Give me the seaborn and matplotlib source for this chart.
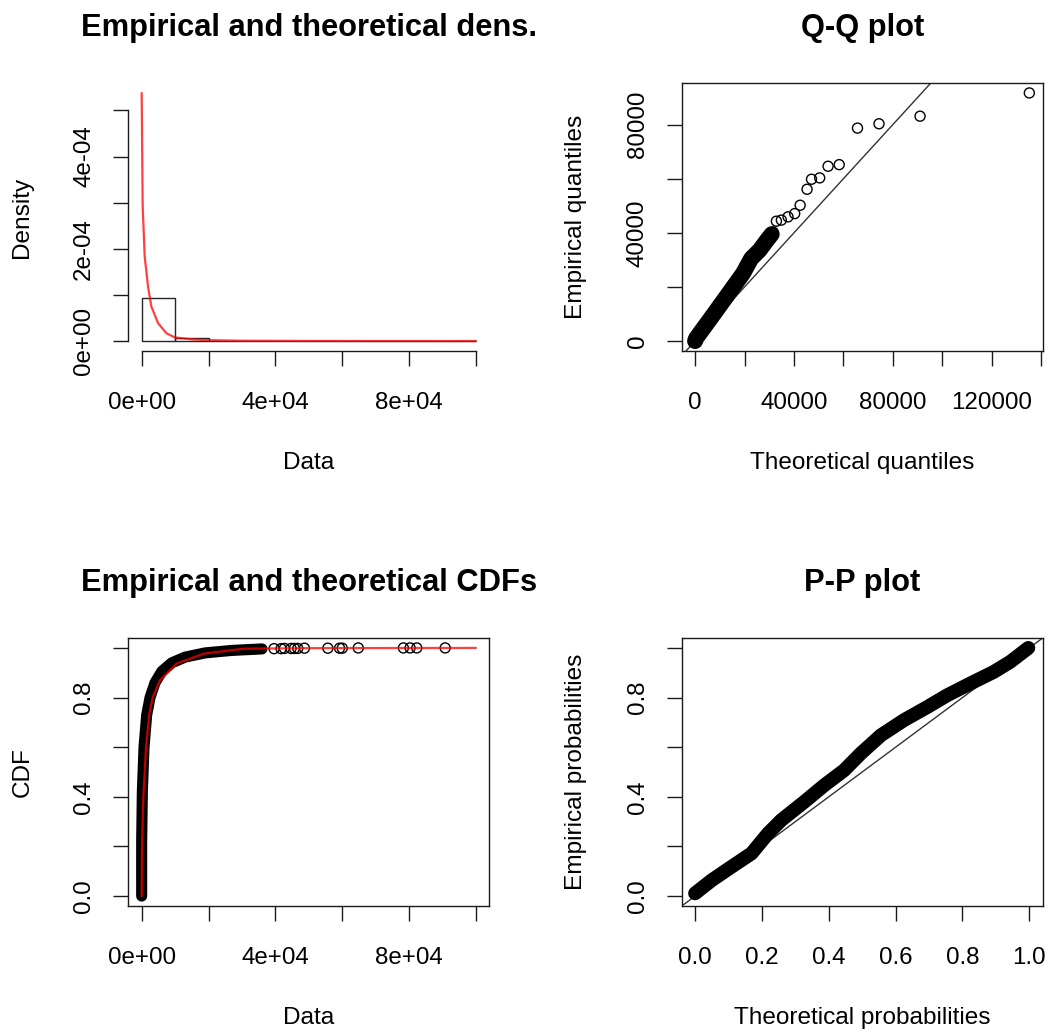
import numpy as np
import pandas as pd
import matplotlib
matplotlib.use("Agg")
import matplotlib.pyplot as plt
import seaborn as sns

# ------------------------------------------------------------------
# Data
# ------------------------------------------------------------------
# Panel 1: histogram (density scale) and theoretical density
hist_bin_left = [0, 10000, 20000, 30000, 40000, 50000, 60000, 70000, 80000, 90000]
hist_bin_width = 10000
hist_density = [0.930e-4, 0.059e-4, 0.006e-4, 0.002e-4, 0.0015e-4,
                0.0005e-4, 0.001e-4, 0.0005e-4, 0.0005e-4, 0.0005e-4]
dens_x = [0, 300, 900, 1900, 2900, 4900, 7400, 9900, 15000, 20000, 30000, 50000, 100000]
dens_y = [5.38e-4, 2.93e-4, 1.84e-4, 1.18e-4, 0.75e-4, 0.39e-4, 0.17e-4,
          0.08e-4, 0.037e-4, 0.02e-4, 0.008e-4, 0.003e-4, 0.001e-4]

# Panel 2: Q-Q plot (theoretical vs empirical quantiles)
qq_band_theo = [0, 400, 5800, 12600, 19400, 22700, 26100, 29100, 31000]
qq_band_emp = [0, 1000, 7750, 16350, 25000, 30500, 33600, 37300, 39500]
qq_tail_theo = [31500, 32900, 34900, 37600, 40300, 42500, 45300, 47100,
                50400, 53800, 58300, 65700, 74400, 91000, 135200]
qq_tail_emp = [40300, 44300, 44700, 45900, 47100, 50200, 56100, 59800,
               60300, 64600, 65200, 78700, 80300, 83100, 91700]
qq_ref_line = [-20000, 200000]

# Panel 3: empirical and theoretical CDFs
cdf_band_x = [0, 0, 200, 700, 1500, 2500, 4000, 6000, 9000, 13000, 19000, 27000, 36000]
cdf_band_y = [0.0, 0.22, 0.42, 0.60, 0.73, 0.80, 0.86, 0.905, 0.94, 0.963, 0.980, 0.990, 0.996]
cdf_tail_x = [39600, 41700, 42700, 44700, 45700, 46700, 48700, 55700, 59200,
              60000, 64800, 78300, 80300, 82300, 90800]
cdf_tail_y = [0.997, 0.997, 0.998, 0.998, 0.998, 0.998, 0.999, 0.999, 0.999,
              0.999, 1.0, 1.0, 1.0, 1.0, 1.0]
cdf_theo_x = [0, 100, 500, 1300, 2300, 3300, 5500, 10500, 18600, 30600, 50000, 100000]
cdf_theo_y = [0.0, 0.20, 0.40, 0.60, 0.735, 0.80, 0.87, 0.937, 0.977, 0.997, 0.999, 1.0]

# Panel 4: P-P plot
pp_band_theo = [0.0, 0.05, 0.109, 0.169, 0.218, 0.258, 0.327, 0.387, 0.446,
                0.496, 0.556, 0.625, 0.695, 0.754, 0.824, 0.893, 0.943, 0.997]
pp_band_emp = [0.011, 0.064, 0.118, 0.172, 0.252, 0.306, 0.380, 0.447, 0.507,
               0.575, 0.648, 0.709, 0.762, 0.809, 0.857, 0.903, 0.944, 1.0]
pp_ref_line = [-0.2, 1.2]

# Tick positions and labels
dens_xticks = [0, 20000, 40000, 60000, 80000, 100000]
dens_xlabels = ["0e+00", "", "4e+04", "", "8e+04", ""]
dens_yticks = [0, 1e-4, 2e-4, 3e-4, 4e-4, 5e-4]
dens_ylabels = ["0e+00", "", "2e-04", "", "4e-04", ""]
qq_xticks = [0, 20000, 40000, 60000, 80000, 100000, 120000, 140000]
qq_xlabels = ["0", "", "40000", "", "80000", "", "120000", ""]
qq_yticks = [0, 20000, 40000, 60000, 80000]
qq_ylabels = ["0", "", "40000", "", "80000"]
cdf_xticks = dens_xticks
cdf_xlabels = dens_xlabels
prob_ticks = [0.0, 0.2, 0.4, 0.6, 0.8, 1.0]
prob_labels_sparse = ["0.0", "", "0.4", "", "0.8", ""]
prob_labels_full = ["0.0", "0.2", "0.4", "0.6", "0.8", "1.0"]

titles = ["Empirical and theoretical dens.", "Q-Q plot",
          "Empirical and theoretical CDFs", "P-P plot"]
xlabels = ["Data", "Theoretical quantiles", "Data", "Theoretical probabilities"]
ylabels = ["Density", "Empirical quantiles", "CDF", "Empirical probabilities"]

# ------------------------------------------------------------------
sns.set_style("white")
plt.rcParams["font.family"] = ["Liberation Sans", "DejaVu Sans"]
plt.rcParams["text.color"] = "black"
plt.rcParams["axes.labelcolor"] = "black"
plt.rcParams["xtick.color"] = "black"
plt.rcParams["ytick.color"] = "black"

W, H = 1052, 1035
fig = plt.figure(figsize=(W / 100, H / 100), dpi=100)

PW, PH = 361, 268          # plot region size in px
lefts = [128.3, 681.7]
bottoms = [351, 906]       # px from top


def make_ax(col, row):
    x0 = lefts[col] / W
    y0 = (H - bottoms[row]) / H
    return fig.add_axes([x0, y0, PW / W, PH / H])


def r_lim(lo, hi):
    d = hi - lo
    return lo - 0.04 * d, hi + 0.04 * d


TICK_FS = 17.4
LAB_FS = 17.6
TITLE_FS = 22.2
RED = (1.0, 0.0, 0.0, 0.75)
AXCOL = (0.1, 0.1, 0.1)


def style(ax, i, xt, xl, yt, yl, box=True):
    ax.set_xticks(xt)
    ax.set_xticklabels(xl)
    ax.set_yticks(yt)
    ax.set_yticklabels(yl)
    ax.tick_params(axis="both", direction="out", length=10.8, width=1.0,
                   color=AXCOL, labelsize=TICK_FS, labelcolor="black")
    ax.tick_params(axis="x", pad=19, bottom=True)
    ax.tick_params(axis="y", pad=13, left=True)
    for lab in ax.get_yticklabels():
        lab.set_rotation(90)
        lab.set_va("center")
        lab.set_ha("right")
    for sp in ax.spines.values():
        sp.set_color(AXCOL)
        sp.set_linewidth(1.0)
        sp.set_visible(box)
    ax.grid(False)
    ax.set_xlabel(xlabels[i], fontsize=LAB_FS, color="black")
    ax.set_ylabel(ylabels[i], fontsize=LAB_FS, color="black")
    ax.xaxis.set_label_coords(0.5, -112 / PH)
    ax.yaxis.set_label_coords(-106 / PW, 0.5)
    ax.xaxis.label.set_va("center")
    ax.yaxis.label.set_va("center")
    ax.text(0.5, 1 + 47.5 / PH, titles[i], transform=ax.transAxes,
            ha="center", va="baseline", fontsize=TITLE_FS, fontweight="bold",
            color="black")


def round_last_line(ax):
    ax.lines[-1].set_solid_capstyle("round")
    ax.lines[-1].set_solid_joinstyle("round")


def hollow_last_points(ax):
    coll = ax.collections[-1]
    coll.set_facecolor("none")
    coll.set_edgecolor("black")
    coll.set_linewidth(1.0)


# ---------------- Panel 1: density ----------------
ax1 = make_ax(0, 0)
hist_df = pd.DataFrame({
    "mid": [b + hist_bin_width / 2 for b in hist_bin_left],
    "dens": hist_density,
})
edges = hist_bin_left + [hist_bin_left[-1] + hist_bin_width]
sns.histplot(data=hist_df, x="mid", weights="dens", bins=edges, stat="count",
             fill=False, color="black", linewidth=1.0, ax=ax1)
for p in ax1.patches:
    p.set_edgecolor((0.15, 0.15, 0.15))
sns.lineplot(x=dens_x, y=dens_y, color=RED, linewidth=1.6, estimator=None,
             sort=False, ax=ax1)
ax1.set_xlim(*r_lim(0, 100000))
ax1.set_ylim(*r_lim(0, max(dens_y)))
style(ax1, 0, dens_xticks, dens_xlabels, dens_yticks, dens_ylabels, box=False)
ax1.spines["left"].set_visible(True)
ax1.spines["bottom"].set_visible(True)
ax1.spines["left"].set_bounds(0, 5e-4)
ax1.spines["bottom"].set_bounds(0, 100000)

# ---------------- Panel 2: Q-Q ----------------
ax2 = make_ax(1, 0)
sns.lineplot(x=qq_ref_line, y=qq_ref_line, color=(0.2, 0.2, 0.2), linewidth=1.0,
             estimator=None, sort=False, ax=ax2)
sns.lineplot(x=qq_band_theo, y=qq_band_emp, color="black", linewidth=11.5,
             estimator=None, sort=False, ax=ax2)
round_last_line(ax2)
sns.scatterplot(x=qq_tail_theo, y=qq_tail_emp, marker="o", s=52, ax=ax2)
hollow_last_points(ax2)
ax2.set_xlim(*r_lim(0, max(qq_tail_theo)))
ax2.set_ylim(*r_lim(0, max(qq_tail_emp)))
style(ax2, 1, qq_xticks, qq_xlabels, qq_yticks, qq_ylabels)

# ---------------- Panel 3: CDF ----------------
ax3 = make_ax(0, 1)
sns.lineplot(x=cdf_band_x, y=cdf_band_y, color="black", linewidth=8.0,
             estimator=None, sort=False, ax=ax3)
round_last_line(ax3)
sns.scatterplot(x=cdf_tail_x, y=cdf_tail_y, marker="o", s=52, ax=ax3)
hollow_last_points(ax3)
sns.lineplot(x=cdf_theo_x, y=cdf_theo_y, color=RED, linewidth=1.6,
             estimator=None, sort=False, ax=ax3)
ax3.set_xlim(*r_lim(0, 100000))
ax3.set_ylim(*r_lim(0, 1))
style(ax3, 2, cdf_xticks, cdf_xlabels, prob_ticks, prob_labels_sparse)

# ---------------- Panel 4: P-P ----------------
ax4 = make_ax(1, 1)
sns.lineplot(x=pp_ref_line, y=pp_ref_line, color=(0.2, 0.2, 0.2), linewidth=1.0,
             estimator=None, sort=False, ax=ax4)
sns.lineplot(x=pp_band_theo, y=pp_band_emp, color="black", linewidth=10.0,
             estimator=None, sort=False, ax=ax4)
round_last_line(ax4)
ax4.set_xlim(*r_lim(0, 1))
ax4.set_ylim(*r_lim(0, 1))
style(ax4, 3, prob_ticks, prob_labels_full, prob_ticks, prob_labels_sparse)

fig.savefig("out.png", dpi=100)
